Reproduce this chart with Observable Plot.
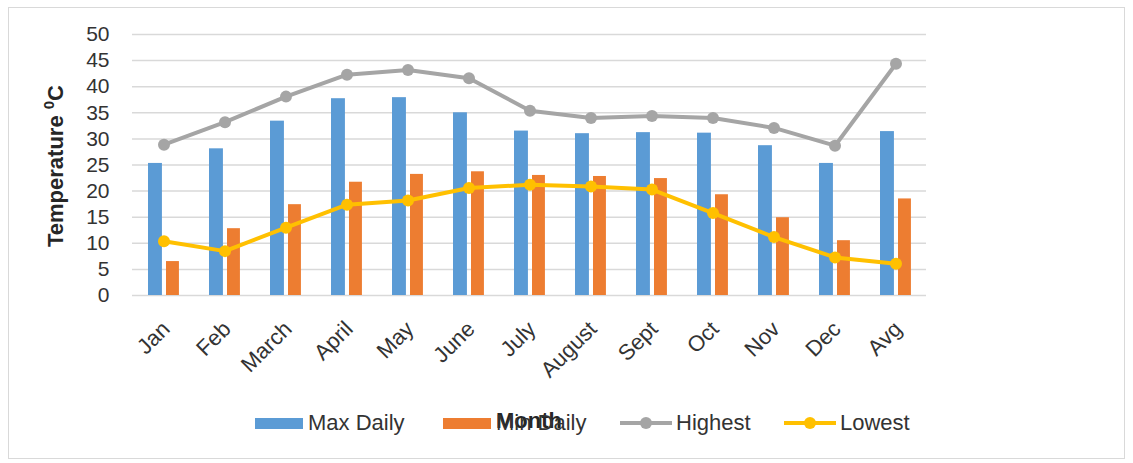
<!DOCTYPE html>
<html><head><meta charset="utf-8">
<script src="https://cdn.jsdelivr.net/npm/d3@7"></script>
<script src="https://cdn.jsdelivr.net/npm/@observablehq/plot@0.6"></script>
<style>
body{margin:0;background:#fff;font-family:"Liberation Sans",Arial,sans-serif;}
#wrap{position:relative;width:1133px;height:463px;overflow:hidden;}
#frame{position:absolute;left:8px;top:7px;width:1117px;height:452px;border:1.5px solid #d9d9d9;box-sizing:border-box;pointer-events:none;}
.lg{position:absolute;font-size:22px;color:#333;line-height:24px;top:411px;white-space:nowrap;}
.sw{position:absolute;top:418px;width:48px;height:11px;}
.ln{position:absolute;top:421px;width:52px;height:4px;}
.ln i{position:absolute;left:20px;top:-4px;width:12px;height:12px;border-radius:6px;}
</style>
</head><body>
<div id="wrap">
  <div id="chart"></div>
  <div id="frame"></div>
  <div id="legend"></div>
</div>
<script>
const months = ["Jan","Feb","March","April","May","June","July","August","Sept","Oct","Nov","Dec","Avg"];
const maxDaily = [25.3,28.1,33.4,37.7,37.9,35.0,31.5,31.0,31.2,31.1,28.7,25.3,31.4];
const minDaily = [6.5,12.8,17.4,21.7,23.2,23.7,23.0,22.8,22.4,19.3,14.9,10.5,18.5];
const highest  = [28.9,33.2,38.1,42.3,43.2,41.6,35.4,34.0,34.4,34.0,32.1,28.7,44.4];
const lowest   = [10.4,8.5,13.0,17.4,18.2,20.6,21.2,20.9,20.3,15.8,11.2,7.3,6.1];
const yTicks = [0,5,10,15,20,25,30,35,40,45,50];
const seriesNames = ["Max Daily","Min Daily","Highest","Lowest"];
const seriesColors = ["#5b9bd5","#ed7d31","#a5a5a5","#ffc000"];
const yTitle = "Temperature ";
const xTitle = "Month";

const rows = months.map((m,i)=>({month:m,max:maxDaily[i],min:minDaily[i],hi:highest[i],lo:lowest[i]}));
const W = 1133, H = 463, ML = 132, MR = 207, MT = 34, MB = 168;
const bw = (W-ML-MR)/months.length;

const chart = Plot.plot({
  width: W, height: H,
  marginLeft: ML, marginRight: MR, marginTop: MT, marginBottom: MB,
  style: {fontFamily:'"Liberation Sans", Arial, sans-serif', fontSize:"21px", color:"#333", background:"transparent", overflow:"visible"},
  x: {domain: months, padding: 0, label: null, tickSize: 0, tickRotate: -45, tickPadding: 32},
  y: {domain: [0,50], ticks: yTicks, label: null, tickSize: 0, tickPadding: 23},
  marks: [
    Plot.gridY(yTicks, {stroke:"#d9d9d9", strokeOpacity:1, strokeWidth:1.5}),
    Plot.barY(rows, {x:"month", y:"max", fill:seriesColors[0], insetLeft:15, insetRight:bw-29}),
    Plot.barY(rows, {x:"month", y:"min", fill:seriesColors[1], insetLeft:33, insetRight:bw-46}),
    Plot.lineY(rows, {x:"month", y:"hi", stroke:seriesColors[2], strokeWidth:4}),
    Plot.dot(rows, {x:"month", y:"hi", r:6, fill:seriesColors[2]}),
    Plot.lineY(rows, {x:"month", y:"lo", stroke:seriesColors[3], strokeWidth:4}),
    Plot.dot(rows, {x:"month", y:"lo", r:6, fill:seriesColors[3]})
  ]
});
document.getElementById("chart").appendChild(chart);

const svg = d3.select(chart);
svg.selectAll("g[aria-label='x-axis tick label'] text").attr("font-size", 22).attr("dx", 3);
const yt = svg.append("text")
  .attr("transform","translate(63,166) rotate(-90)")
  .attr("text-anchor","middle")
  .attr("font-weight","bold").attr("font-size",22).attr("fill","#262626")
  .text(yTitle);
yt.append("tspan").attr("font-size",15).attr("dy",-9).text("0");
yt.append("tspan").attr("dy",9).text("C");
svg.append("text")
  .attr("x", ML + (W-ML-MR)/2).attr("y", 428)
  .attr("text-anchor","middle").attr("font-weight","bold").attr("font-size",22).attr("fill","#262626")
  .text(xTitle);

const legend = document.getElementById("legend");
const pos = [[255,308],[443,496],[620,676],[784,840]];
seriesNames.forEach((n,i)=>{
  const [sx,tx] = pos[i];
  const s = document.createElement("div");
  if (i < 2) { s.className = "sw"; s.style.background = seriesColors[i]; }
  else { s.className = "ln"; s.style.background = seriesColors[i]; const d = document.createElement("i"); d.style.background = seriesColors[i]; s.appendChild(d); }
  s.style.left = sx + "px";
  legend.appendChild(s);
  const t = document.createElement("div");
  t.className = "lg"; t.style.left = tx + "px"; t.textContent = n;
  legend.appendChild(t);
});
</script>
</body></html>
